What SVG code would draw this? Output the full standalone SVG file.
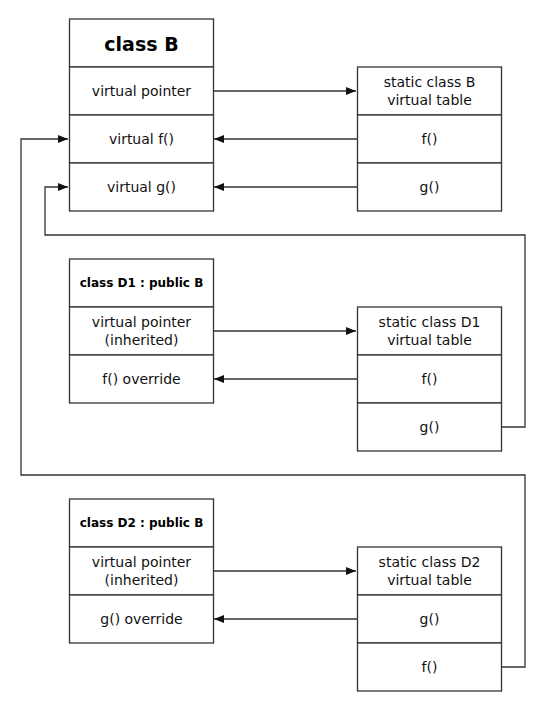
<svg xmlns="http://www.w3.org/2000/svg" width="543" height="709" viewBox="0 0 543 709">
<style>
.box{fill:#fff;stroke:#333;stroke-width:1.3}
.t{font-family:"DejaVu Sans",Verdana,sans-serif;font-size:14px;fill:#111;text-anchor:middle;dominant-baseline:central}
.h{font-family:"DejaVu Sans",Verdana,sans-serif;font-weight:bold;fill:#000;text-anchor:middle;dominant-baseline:central}
.c{fill:none;stroke:#333;stroke-width:1.3}
</style>
<defs>
<marker id="ah" markerUnits="userSpaceOnUse" markerWidth="12" markerHeight="10" refX="10" refY="4" orient="auto">
<path d="M0,0 L10,4 L0,8 Z" fill="#111"/>
</marker>
</defs>
<rect width="543" height="709" fill="#fff"/>
<g id="connectors">
<path class="c" d="M213,91 H356" marker-end="url(#ah)"/>
<path class="c" d="M357,139 H214" marker-end="url(#ah)"/>
<path class="c" d="M357,187 H214" marker-end="url(#ah)"/>
<path class="c" d="M501,427 H525 V235 H45 V187 H68" marker-end="url(#ah)"/>
<path class="c" d="M213,331 H356" marker-end="url(#ah)"/>
<path class="c" d="M357,379 H214" marker-end="url(#ah)"/>
<path class="c" d="M213,571 H356" marker-end="url(#ah)"/>
<path class="c" d="M357,619 H214" marker-end="url(#ah)"/>
<path class="c" d="M501,667 H525 V475 H21 V139 H68" marker-end="url(#ah)"/>
</g>
<g id="classB">
<rect class="box" x="69.5" y="19" width="144" height="48"/>
<rect class="box" x="69.5" y="67" width="144" height="48"/>
<rect class="box" x="69.5" y="115" width="144" height="48"/>
<rect class="box" x="69.5" y="163" width="144" height="48"/>
<text class="h" x="141.5" y="44" font-size="19">class B</text>
<text class="t" x="141.5" y="91">virtual pointer</text>
<text class="t" x="141.5" y="139">virtual f()</text>
<text class="t" x="141.5" y="187">virtual g()</text>
</g>
<g id="vtableB">
<rect class="box" x="357.5" y="67" width="144" height="48"/>
<rect class="box" x="357.5" y="115" width="144" height="48"/>
<rect class="box" x="357.5" y="163" width="144" height="48"/>
<text class="t" x="429.5" y="82">static class B</text>
<text class="t" x="429.5" y="100">virtual table</text>
<text class="t" x="429.5" y="139">f()</text>
<text class="t" x="429.5" y="187">g()</text>
</g>
<g id="classD1">
<rect class="box" x="69.5" y="259" width="144" height="48"/>
<rect class="box" x="69.5" y="307" width="144" height="48"/>
<rect class="box" x="69.5" y="355" width="144" height="48"/>
<text class="h" x="141.5" y="283" font-size="12">class D1 : public B</text>
<text class="t" x="141.5" y="322">virtual pointer</text>
<text class="t" x="141.5" y="340">(inherited)</text>
<text class="t" x="141.5" y="379">f() override</text>
</g>
<g id="vtableD1">
<rect class="box" x="357.5" y="307" width="144" height="48"/>
<rect class="box" x="357.5" y="355" width="144" height="48"/>
<rect class="box" x="357.5" y="403" width="144" height="48"/>
<text class="t" x="429.5" y="322">static class D1</text>
<text class="t" x="429.5" y="340">virtual table</text>
<text class="t" x="429.5" y="379">f()</text>
<text class="t" x="429.5" y="427">g()</text>
</g>
<g id="classD2">
<rect class="box" x="69.5" y="499" width="144" height="48"/>
<rect class="box" x="69.5" y="547" width="144" height="48"/>
<rect class="box" x="69.5" y="595" width="144" height="48"/>
<text class="h" x="141.5" y="523" font-size="12">class D2 : public B</text>
<text class="t" x="141.5" y="562">virtual pointer</text>
<text class="t" x="141.5" y="580">(inherited)</text>
<text class="t" x="141.5" y="619">g() override</text>
</g>
<g id="vtableD2">
<rect class="box" x="357.5" y="547" width="144" height="48"/>
<rect class="box" x="357.5" y="595" width="144" height="48"/>
<rect class="box" x="357.5" y="643" width="144" height="48"/>
<text class="t" x="429.5" y="562">static class D2</text>
<text class="t" x="429.5" y="580">virtual table</text>
<text class="t" x="429.5" y="619">g()</text>
<text class="t" x="429.5" y="667">f()</text>
</g>
</svg>
